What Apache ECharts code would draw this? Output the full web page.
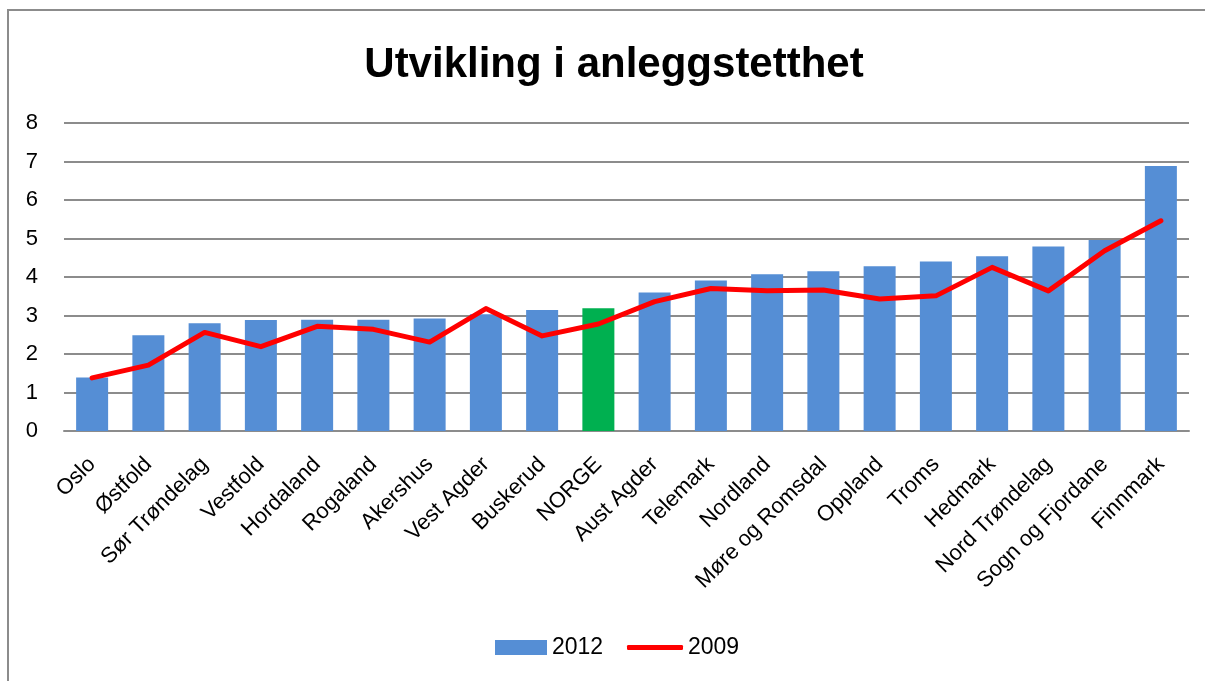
<!DOCTYPE html>
<html>
<head>
<meta charset="utf-8">
<script src="https://cdn.jsdelivr.net/npm/echarts@6/dist/echarts.min.js"></script>
<style>
  html, body { margin: 0; padding: 0; background: #fff; overflow: hidden; }
  #chart { position: absolute; left: 0; top: 0; width: 1205px; height: 681px; }
  #frame { position: absolute; left: 7px; top: 9px; width: 1400px; height: 900px;
           border-left: 2px solid #8c8c8c; border-top: 2px solid #8c8c8c; pointer-events: none; }
</style>
</head>
<body>
<div id="chart"></div>
<div id="frame"></div>
<script>
const categories = ['Oslo', 'Østfold', 'Sør Trøndelag', 'Vestfold', 'Hordaland', 'Rogaland', 'Akershus',
  'Vest Agder', 'Buskerud', 'NORGE', 'Aust Agder', 'Telemark', 'Nordland', 'Møre og Romsdal',
  'Oppland', 'Troms', 'Hedmark', 'Nord Trøndelag', 'Sogn og Fjordane', 'Finnmark'];
const values2012 = [1.39, 2.49, 2.80, 2.88, 2.89, 2.89, 2.92, 3.03, 3.14, 3.19, 3.60, 3.91, 4.07, 4.15,
  4.28, 4.40, 4.54, 4.79, 4.96, 6.88];
const values2009 = [1.38, 1.71, 2.56, 2.19, 2.72, 2.64, 2.31, 3.18, 2.47, 2.78, 3.36, 3.70, 3.64, 3.66,
  3.43, 3.51, 4.25, 3.64, 4.68, 5.46];
const yTicks = [0, 1, 2, 3, 4, 5, 6, 7, 8];
const highlightCategory = 'NORGE';

const BLUE = '#558ED5';
const GREEN = '#00B050';
const RED = '#FF0000';
const FONT = 'Liberation Sans';

const chart = echarts.init(document.getElementById('chart'), null, { renderer: 'canvas' });

const barData = values2012.map((v, i) => categories[i] === highlightCategory
  ? { value: v, itemStyle: { color: GREEN } }
  : v);

chart.setOption({
  animation: false,
  backgroundColor: 'transparent',
  textStyle: { fontFamily: FONT },
  title: {
    text: 'Utvikling i anleggstetthet',
    left: 614,
    top: 44,
    padding: 0,
    textAlign: 'center',
    textStyle: { fontFamily: FONT, fontSize: 42, fontWeight: 'bold', color: '#000' }
  },
  legend: [
    {
      data: ['2012'],
      left: 495,
      top: 636,
      padding: 0,
      itemWidth: 52,
      itemHeight: 15,
      itemGap: 6,
      icon: 'rect',
      textStyle: { fontFamily: FONT, fontSize: 23, color: '#000' },
      selectedMode: false
    },
    {
      data: ['2009'],
      left: 627,
      top: 636,
      padding: 0,
      itemWidth: 56,
      itemHeight: 5,
      icon: 'roundRect',
      textStyle: { fontFamily: FONT, fontSize: 23, color: '#000' },
      selectedMode: false
    }
  ],
  grid: { left: 64, right: 16, top: 123, bottom: 250, containLabel: false },
  xAxis: {
    type: 'category',
    data: categories,
    boundaryGap: true,
    axisLine: { show: true, lineStyle: { color: '#8c8c8c', width: 2 } },
    axisTick: { show: false },
    axisLabel: {
      interval: 0,
      rotate: 45,
      margin: 30,
      fontFamily: FONT,
      fontSize: 22,
      color: '#000'
    }
  },
  yAxis: {
    type: 'value',
    min: yTicks[0],
    max: yTicks[yTicks.length - 1],
    interval: 1,
    axisLine: { show: false },
    axisTick: { show: false },
    axisLabel: { margin: 26, fontFamily: FONT, fontSize: 22, color: '#000' },
    splitLine: { show: true, lineStyle: { color: '#8c8c8c', width: 2 } }
  },
  series: [
    {
      name: '2012',
      type: 'bar',
      data: barData,
      barWidth: 32,
      itemStyle: { color: BLUE },
      z: 2
    },
    {
      name: '2009',
      type: 'line',
      data: values2009,
      symbol: 'none',
      showSymbol: false,
      lineStyle: { color: RED, width: 5, cap: 'round', join: 'round' },
      itemStyle: { color: RED },
      z: 3
    }
  ]
});
</script>
</body>
</html>
